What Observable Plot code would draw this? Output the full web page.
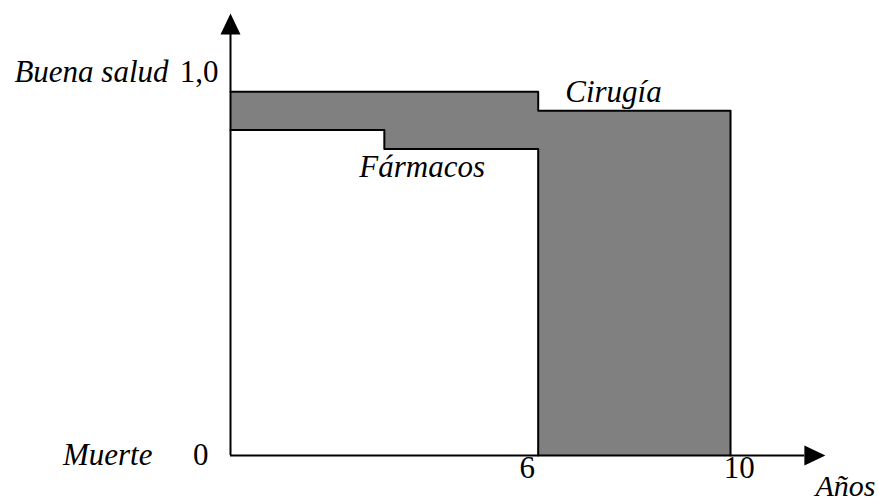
<!DOCTYPE html>
<html>
<head>
<meta charset="utf-8">
<script src="https://cdn.jsdelivr.net/npm/d3@7"></script>
<script src="https://cdn.jsdelivr.net/npm/@observablehq/plot@0.6"></script>
<style>
  html, body { margin: 0; padding: 0; background: #fff; }
  svg { display: block; }
  svg text { font-family: 'Liberation Serif', 'Times New Roman', Times, serif; }
</style>
</head>
<body>
<div id="chart"></div>
<script>
// Data
const years    = [0, 3, 6, 9.75];        // step points (Años)
const cirugia  = [0.95, 0.95, 0.90, 0];  // Cirugía health level
const farmacos = [0.85, 0.80, 0, 0];     // Fármacos health level
const xTicks = [6, 10];
const xTickLabels = ["6", "10"];

const rows = years.map((x, i) => ({x, cir: cirugia[i], far: farmacos[i]}));
const farRows = rows.filter(d => d.x <= 6);

const font = "Liberation Serif";
const fs = 31;

const upArrow = {draw(ctx) { ctx.moveTo(0, 0); ctx.lineTo(-10, 21); ctx.lineTo(10, 21); ctx.closePath(); }};
const rightArrow = {draw(ctx) { ctx.moveTo(0, 0); ctx.lineTo(-21, -10); ctx.lineTo(-21, 10); ctx.closePath(); }};

const xMax = 11.6, yMax = 1.154;
const txt = {fontSize: fs, fontFamily: font, fill: "#000"};

const chart = Plot.plot({
  width: 878,
  height: 504,
  margin: 0,
  style: {background: "#fff", overflow: "visible"},
  x: {type: "linear", domain: [0, 6], range: [230, 537.7], axis: null},
  y: {type: "linear", domain: [0, 1], range: [455, 72], axis: null},
  marks: [
    Plot.areaY(rows, {x: "x", y1: "far", y2: "cir", curve: "step-after", fill: "#808080"}),
    Plot.line(rows, {x: "x", y: "cir", curve: "step-after", stroke: "#000", strokeWidth: 2}),
    Plot.line(farRows, {x: "x", y: "far", curve: "step-after", stroke: "#000", strokeWidth: 2}),
    // axes
    Plot.ruleX([0], {y1: 0, y2: 1.11, stroke: "#000", strokeWidth: 2}),
    Plot.ruleY([0], {x1: 0, x2: 11.2, stroke: "#000", strokeWidth: 2}),
    Plot.dot([{x: 0, y: yMax}], {x: "x", y: "y", symbol: upArrow, fill: "#000", stroke: null}),
    Plot.dot([{x: xMax, y: 0}], {x: "x", y: "y", symbol: rightArrow, fill: "#000", stroke: null}),
    // x tick labels
    Plot.text([0], {x: () => xTicks[0], y: 0, text: () => xTickLabels[0], dx: -11, dy: 13, ...txt}),
    Plot.text([0], {x: () => xTicks[1], y: 0, text: () => xTickLabels[1], dx: -4, dy: 13, ...txt}),
    // y labels
    Plot.text([1], {x: 0, y: d => d, text: () => "1,0", textAnchor: "end", dx: -12, ...txt}),
    Plot.text([1], {x: 0, y: d => d, text: () => "Buena salud", textAnchor: "end", dx: -62, fontStyle: "italic", ...txt}),
    Plot.text([0], {x: 0, y: d => d, text: () => "0", textAnchor: "end", dx: -22, ...txt}),
    Plot.text([0], {x: 0, y: d => d, text: () => "Muerte", textAnchor: "end", dx: -78, fontStyle: "italic", ...txt}),
    // series labels
    Plot.text([{x: 6, y: 0.95}], {x: "x", y: "y", text: () => "Cirugía", textAnchor: "start", dx: 27, dy: 0, fontStyle: "italic", ...txt}),
    Plot.text([{x: 3, y: 0.80}], {x: "x", y: "y", text: () => "Fármacos", textAnchor: "start", dx: -25, dy: 18, fontStyle: "italic", ...txt}),
    // axis title
    Plot.text([{x: xMax, y: 0}], {x: "x", y: "y", text: () => "Años", textAnchor: "start", dx: -10, dy: 31, fontStyle: "italic", ...txt, fontSize: 30})
  ]
});
document.getElementById("chart").appendChild(chart);
</script>
</body>
</html>
